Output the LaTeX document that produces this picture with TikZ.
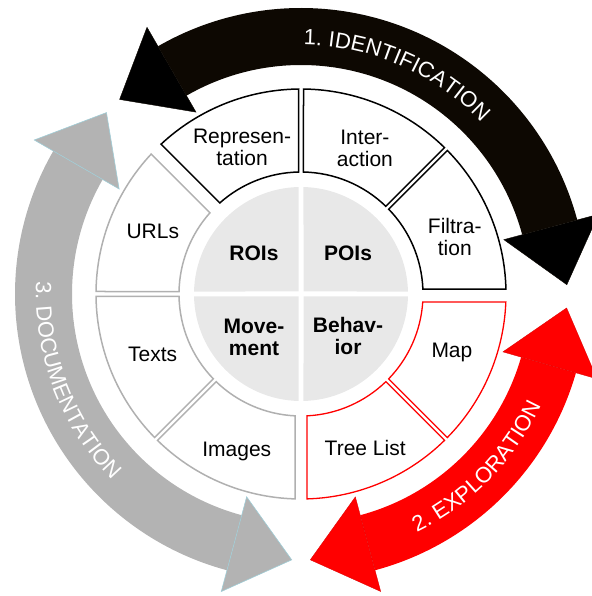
\documentclass[tikz,border=0pt]{standalone}
\usepackage{fontspec}
\setmainfont{Liberation Sans}
\usetikzlibrary{decorations.text}
\definecolor{IdentBlack}{RGB}{13,8,2}
\definecolor{ExplRed}{RGB}{255,0,0}
\definecolor{DocGray}{RGB}{179,179,179}
\definecolor{DocEdge}{RGB}{160,205,215}
\definecolor{RingGray}{RGB}{176,176,176}
\definecolor{CoreGray}{RGB}{232,232,232}
\newcommand{\arcfont}{\fontsize{22}{23}\selectfont}
\newcommand{\ringpart}[5]{%
  \draw[#1] ({#2+asin(#4/205)}:205) arc[start angle={#2+asin(#4/205)}, end angle={#3-asin(#5/205)}, radius=205]
    -- ({#3-asin(#5/122)}:122) arc[start angle={#3-asin(#5/122)}, end angle={#2+asin(#4/122)}, radius=122] -- cycle;}
\newcommand{\cyclearrow}[4]{%
  \fill[#1] (#3:286) arc[start angle=#3, end angle=#4, radius=286] -- (#4:229) arc[start angle=#4, end angle=#3, radius=229] -- cycle;
  \filldraw[#2] (#3:308) -- ({#3-13}:266) -- (#3:210) -- cycle;
  \filldraw[#2] (#4:308) -- ({#4+13}:266) -- (#4:210) -- cycle;}

\begin{document}
\begin{tikzpicture}[
        x=1pt, y=1pt,
        blackpart/.style={draw=black, fill=white, line width=1.5pt},
        graypart/.style={draw=RingGray, fill=white, line width=1.5pt},
        redpart/.style={draw=ExplRed, fill=white, line width=1.3pt},
        identhead/.style={fill=black, draw=IdentBlack, line width=0.4pt},
        explhead/.style={fill=ExplRed, draw=ExplRed!85!black, line width=0.3pt},
        dochead/.style={fill=DocGray, draw=DocEdge, line width=0.6pt},
        partlabel/.style={font=\fontsize{21}{22}\selectfont, align=center},
        corelabel/.style={font=\fontsize{21}{22}\selectfont\bfseries, align=center},
        arctext/.style={decorate, decoration={text along path, text={|\arcfont|#1}, text align=center, text color=white}}
    ]
        \useasboundingbox (-301,-302) rectangle (290,294);

        \cyclearrow{IdentBlack}{identhead}{15}{120}
        \cyclearrow{ExplRed}{explhead}{-75}{-16}
        \cyclearrow{DocGray}{dochead}{150}{255}

        \path[arctext={1. IDENTIFICATION}] (101.5:249) arc[start angle=101.5, end angle=31.5, radius=249];
        \path[arctext={2. EXPLORATION}] (-79.5:265) arc[start angle=-79.5, end angle=-9.5, radius=265];
        \path[arctext={3. DOCUMENTATION}] (166:265) arc[start angle=166, end angle=236, radius=265];

        \ringpart{blackpart}{0}{45}{5}{2}
        \ringpart{blackpart}{45}{90}{2}{2.5}
        \ringpart{blackpart}{90}{135}{2.5}{7}
        \ringpart{graypart}{135}{180}{7}{2.5}
        \ringpart{graypart}{180}{225}{2.5}{2}
        \ringpart{graypart}{225}{270}{2}{6}
        \ringpart{redpart}{270}{315}{6}{2}
        \ringpart{redpart}{315}{360}{2}{8}

        \foreach \q in {0,90,180,270}
            \fill[CoreGray, rotate=\q] (2.5,2.5) -- ({asin(2.5/107)}:107) arc[start angle={asin(2.5/107)}, end angle={90-asin(2.5/107)}, radius=107] -- cycle;

        \node[partlabel] (repr) at (111.9:158) {Represen-\\tation};
        \node[partlabel] (inter) at (66.3:159) {Inter-\\action};
        \node[partlabel] (filt) at (20.3:164) {Filtra-\\tion};
        \node[partlabel] (urls) at (157:161) {URLs};
        \node[partlabel] (texts) at (202:160) {Texts};
        \node[partlabel] (images) at (247.8:170) {Images};
        \node[partlabel] (tree) at (-67.4:167) {Tree List};
        \node[partlabel] (map) at (-21.3:162) {Map};

        \node[corelabel] (rois) at (-47,41) {ROIs};
        \node[corelabel] (pois) at (47,41) {POIs};
        \node[corelabel] (move) at (-47,-43) {Move-\\ment};
        \node[corelabel] (behav) at (47,-42) {Behav-\\ior};
    \end{tikzpicture}
\end{document}
